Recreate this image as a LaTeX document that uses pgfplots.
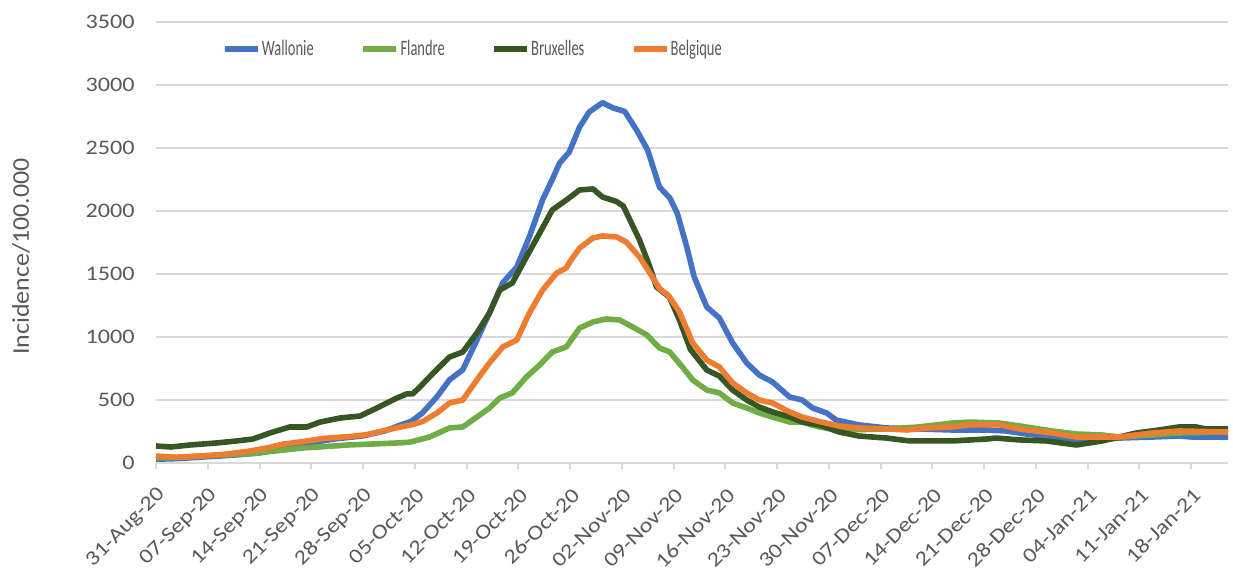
\documentclass[border=0pt]{standalone}
\usepackage{pgfplots}
\pgfplotsset{compat=1.18}
\usepackage{fontspec}
\setmainfont{Carlito}
\newfontfamily\tickfont[FakeStretch=1.17]{Carlito}
\newfontfamily\ylabfont[FakeStretch=1.08]{Carlito}
\newfontfamily\legfont[FakeStretch=0.66]{Carlito}
\definecolor{cW}{HTML}{4472C4}
\definecolor{cF}{HTML}{70AD47}
\definecolor{cB}{HTML}{375623}
\definecolor{cBe}{HTML}{ED7D31}
\definecolor{txt}{HTML}{595959}
\definecolor{grd}{HTML}{D9D9D9}
\begin{document}
\begin{tikzpicture}
\path[use as bounding box] (-117pt,-80.25pt) rectangle (807.75pt,347.25pt);
\begin{axis}[
  at={(0,0)}, anchor=south west,
  scale only axis, width=804pt, height=330.75pt,
  xmin=0, xmax=145, ymin=0, ymax=3500,
  ytick={0,500,...,3500},
  xtick={0,7,...,140},
  xticklabels={31-Aug-20,07-Sep-20,14-Sep-20,21-Sep-20,28-Sep-20,05-Oct-20,12-Oct-20,19-Oct-20,26-Oct-20,02-Nov-20,09-Nov-20,16-Nov-20,23-Nov-20,30-Nov-20,07-Dec-20,14-Dec-20,21-Dec-20,28-Dec-20,04-Jan-21,11-Jan-21,18-Jan-21},
  /pgf/number format/assume math mode=true,
  /pgf/number format/1000 sep={},
  axis line style={draw=none},
  ymajorgrids, grid style={grd, line width=1.5pt},
  ytick style={draw=none},
  xtick pos=bottom, xtick align=outside,
  xtick style={grd, line width=1.5pt},
  major tick length=4.5pt,
  tick label style={text=txt, inner sep=0pt},
  yticklabel style={font=\tickfont\fontsize{15.5}{18}\selectfont, anchor=east, xshift=-15.75pt},
  xticklabel style={font=\tickfont\fontsize{15.5}{18}\selectfont, xshift=4.5pt, yshift=-17pt, rotate=45, anchor=east},
  ylabel={Incidence/100.000},
  ylabel style={font=\ylabfont\fontsize{18}{20}\selectfont, text=txt, at={([xshift=-101.25pt]axis description cs:0,0.468)}, anchor=center},
  legend columns=4,
  legend style={draw=none, fill=none, inner sep=0pt, outer sep=0pt,
    at={([xshift=49.5pt,yshift=-20.25pt]axis description cs:0,1)}, anchor=west,
    font=\legfont\fontsize{16.5}{19}\selectfont, text=txt,
    /tikz/every even column/.append style={column sep=0pt},
    nodes={inner sep=0pt, outer sep=0pt}},
  legend image code/.code={\draw[#1, line width=4.5pt, line cap=round] (2.2pt,0pt) -- (22.55pt,0pt); \path (0pt,0pt) -- (24.75pt,0pt);},
  every axis plot/.append style={line width=4.2pt, line join=round, mark=none},
]
\addplot[cW] coordinates {
(0,30) (3,35) (7,50) (10,60) (14,80) (17,110) (21,160) (24,190) (28,215) (31,255) (33,300) (34.5,330) (36,395) (38,525) (39.7,660) (41.5,740) (43.4,975) (45.1,1190) (46.9,1430) (48.8,1555) (50.5,1795) (52.3,2090) (53.6,2250) (54.6,2381) (55.9,2468) (57.3,2667) (58.6,2786) (60.4,2860) (61.8,2818) (63.4,2790) (65,2643) (66.5,2484) (68.1,2190) (69.5,2103) (70.5,1984) (71.8,1714) (72.8,1476) (74.5,1238) (76.2,1151) (78,952) (79.9,794) (81.6,698) (83.4,643) (85.7,524) (87.4,500) (88.8,437) (90.7,397) (92,341) (95.1,302) (98.8,278) (103.2,270) (107.7,262) (112.3,262) (115,254) (117.7,230) (121.2,206) (124.5,183) (128,190) (130.3,198) (134.7,206) (138.4,214) (140.1,206) (145,206)
};
\addlegendentry{\makebox[75pt][l]{\hspace{1pt}Wallonie}}
\addplot[cF] coordinates {
(0,40) (3,45) (6,55) (10,65) (13,75) (16,95) (20,120) (24,135) (26,143) (29,150) (33,160) (34.3,165) (37,206) (39.7,278) (41.5,286) (43.4,365) (45.1,436) (46.5,516) (48.2,556) (50.1,683) (51.9,778) (53.6,881) (55.5,921) (57.3,1071) (59.1,1119) (60.9,1143) (62.7,1135) (64.5,1079) (66.4,1016) (68.1,913) (69.5,881) (71.2,762) (72.6,659) (74.5,579) (76.2,556) (78,476) (79.9,437) (81.6,397) (83.4,365) (85.7,325) (87.4,325) (89.7,286) (92.4,262) (95.1,265) (98.8,270) (103.2,286) (107.7,317) (110,325) (114.1,317) (116.8,294) (121.2,254) (124.5,230) (128,222) (130.3,206) (134.7,222) (138.4,238) (145,246)
};
\addlegendentry{\makebox[69pt][l]{\hspace{1pt}Flandre}}
\addplot[cB] coordinates {
(0,135) (2,127) (4.6,143) (8.2,159) (10.9,175) (13.1,190) (15.4,238) (18.1,286) (20.4,286) (22.2,325) (24.9,357) (27.6,373) (29.9,437) (32.6,516) (33.9,548) (34.7,548) (35.7,603) (37.5,714) (39.7,841) (41.5,881) (43.4,1032) (45.1,1190) (46.5,1373) (48.2,1429) (50.1,1635) (51.9,1825) (53.6,2008) (55.5,2087) (57.3,2167) (59.1,2175) (60.4,2111) (62.3,2075) (63.2,2040) (64.3,1905) (65.4,1770) (66.8,1556) (67.7,1397) (69.1,1333) (69.5,1310) (70.8,1135) (72.3,900) (74.5,738) (76.2,690) (78,579) (79.9,500) (81.6,444) (83.4,405) (85.7,365) (87.4,325) (89.7,302) (92.4,246) (95.1,214) (98.8,198) (101.9,175) (107.7,175) (112.3,190) (113.6,198) (116.8,183) (120.4,175) (124.5,143) (128,175) (132.6,238) (135.7,262) (138.4,286) (140.7,286) (142,270) (145,270)
};
\addlegendentry{\makebox[75.75pt][l]{\hspace{1pt}Bruxelles}}
\addplot[cBe] coordinates {
(0,55) (2.8,45) (5.9,55) (9.6,71) (12.7,95) (15,119) (17.2,150) (19.9,170) (22.6,195) (26.2,210) (28.5,225) (30.7,255) (33,285) (34.7,305) (36.1,330) (38,397) (39.7,476) (41.5,500) (43.4,659) (45.1,794) (46.9,921) (48.8,976) (50.5,1190) (52.3,1373) (54.2,1508) (55.5,1548) (55.9,1590) (57.3,1706) (59.1,1786) (60.4,1802) (62.3,1794) (63.6,1754) (65.4,1635) (66.8,1508) (68.1,1385) (69.3,1330) (70.8,1200) (72.6,952) (74.5,817) (76.2,762) (78,635) (79.9,556) (81.6,500) (83.4,476) (85.7,405) (87.4,365) (89.7,329) (92.4,294) (95.1,278) (98.8,270) (101.5,262) (104.6,278) (107.7,286) (110,302) (114.1,302) (116.8,270) (121.2,238) (124.5,206) (128,206) (130.3,206) (134.7,238) (138.4,254) (145,246)
};
\addlegendentry{\hspace{1pt}Belgique}
\end{axis}
\end{tikzpicture}
\end{document}
